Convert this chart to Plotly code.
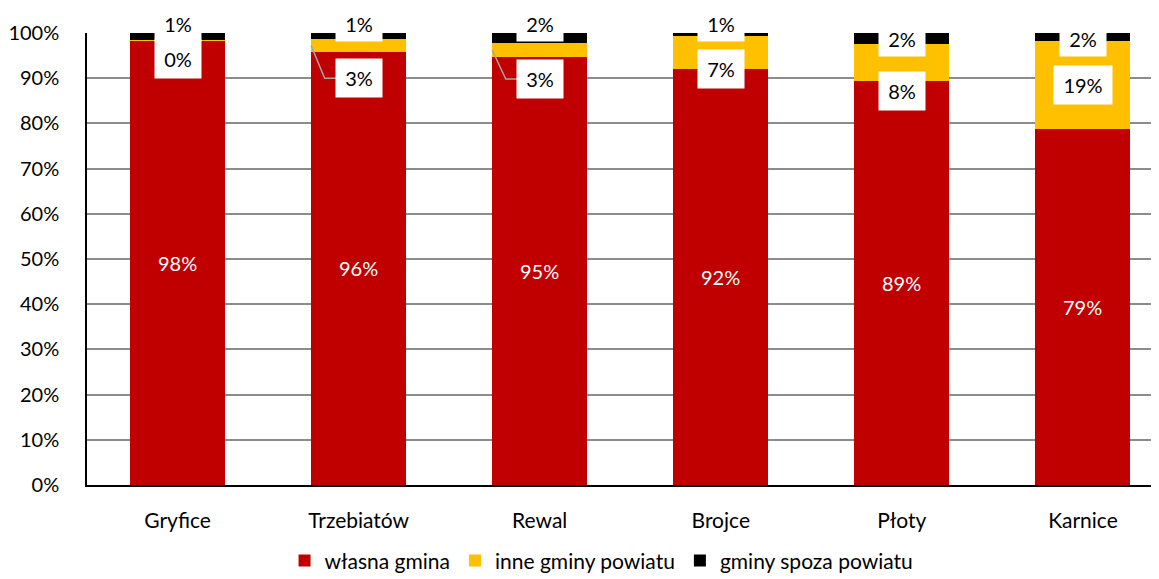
import plotly.graph_objects as go

categories = ["Gryfice", "Trzebiatów", "Rewal", "Brojce", "Płoty", "Karnice"]
wlasna = [98.3, 95.9, 94.8, 92.0, 89.4, 78.8]
inne = [0.2, 2.7, 2.9, 7.3, 8.2, 19.5]
spoza = [1.5, 1.4, 2.3, 0.7, 2.4, 1.7]
lab_wlasna = ["98%", "96%", "95%", "92%", "89%", "79%"]
lab_inne = ["0%", "3%", "3%", "7%", "8%", "19%"]
lab_spoza = ["1%", "1%", "2%", "1%", "2%", "2%"]

# label placement (in % units) – styling, not data
pos_inne = [94.2, 90.0, 89.8, 92.1, 87.2, 88.5]
pos_spoza = [102.0, 102.0, 102.0, 102.0, 98.8, 98.8]
leader = [False, True, True, False, False, False]

RED, YEL, BLK = "#C00000", "#FFC000", "#000000"
FONT = "Lato"
FS = 20
BW = 0.525

fig = go.Figure()
for name, vals, col in [("własna gmina", wlasna, RED),
                        ("inne gminy powiatu", inne, YEL),
                        ("gminy spoza powiatu", spoza, BLK)]:
    fig.add_trace(go.Bar(x=categories, y=vals, name=name, marker_color=col,
                         marker_line_width=0, width=BW, hoverinfo="skip"))

ann = []
for i, c in enumerate(categories):
    ann.append(dict(x=i, xref="x", y=wlasna[i] / 200, yref="paper",
                    xanchor="center", yanchor="middle",
                    text=lab_wlasna[i], showarrow=False,
                    font=dict(color="white", size=FS, family=FONT)))
    ann.append(dict(x=i, xref="x", y=pos_inne[i] / 100, yref="paper",
                    xanchor="center", yanchor="middle",
                    text=lab_inne[i], showarrow=False,
                    font=dict(color="black", size=FS, family=FONT),
                    bgcolor="white", width=44 if len(lab_inne[i]) < 3 else 56,
                    height=36))
    ann.append(dict(x=i, xref="x", y=pos_spoza[i] / 100, yref="paper",
                    xanchor="center", yanchor="middle",
                    text=lab_spoza[i], showarrow=False,
                    font=dict(color="black", size=FS, family=FONT),
                    bgcolor="white", width=44, height=33))

shapes = []
for i, c in enumerate(categories):
    if leader[i]:
        x0 = i - BW / 2
        y0 = wlasna[i] + inne[i] / 2
        xb = x0 + 0.075
        xe = i - 0.12
        yb = pos_inne[i]
        shapes.append(dict(type="path", xref="x", yref="y",
                           path=f"M {x0} {y0} L {xb} {yb} L {xe} {yb}",
                           line=dict(color="#A6A6A6", width=1.5)))

fig.update_layout(
    barmode="stack",
    width=1151, height=571,
    margin=dict(l=79, r=0, t=25, b=94, autoexpand=False),
    plot_bgcolor="white", paper_bgcolor="white",
    font=dict(family=FONT, size=FS, color="black"),
    annotations=ann, shapes=shapes,
    showlegend=True,
    legend=dict(orientation="h", x=0.48, xanchor="center", y=-0.168,
                yanchor="middle", font=dict(size=21, family=FONT),
                itemwidth=30, traceorder="normal"),
)
fig.update_xaxes(range=[-0.5, 5.42], showline=True, linecolor="black",
                 linewidth=1.5, ticks="", ticklabelstandoff=16,
                 tickfont=dict(size=21, family=FONT))
fig.update_yaxes(range=[0, 100], dtick=10, ticksuffix="%", showgrid=True,
                 gridcolor="#8C8C8C", gridwidth=1.5, showline=True,
                 linecolor="black", linewidth=1.5, ticks="",
                 ticklabelstandoff=22, zeroline=False,
                 tickfont=dict(size=FS, family=FONT))

fig.write_html("out.html")
